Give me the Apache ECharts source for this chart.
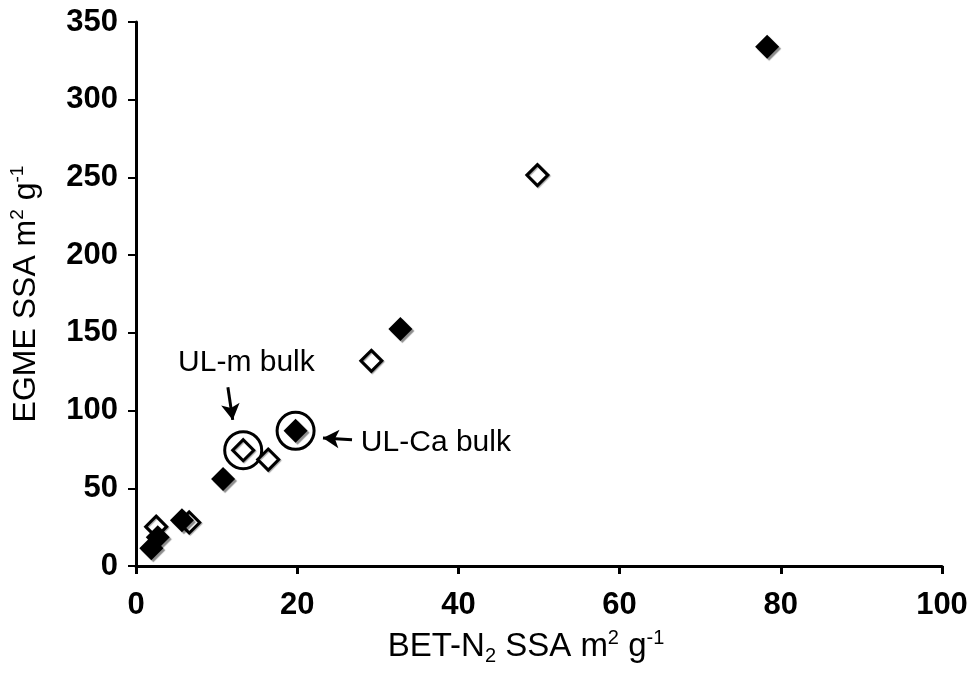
<!DOCTYPE html>
<html>
<head>
<meta charset="utf-8">
<script src="https://cdn.jsdelivr.net/npm/echarts@6/dist/echarts.min.js"></script>
<style>
  html, body { margin: 0; padding: 0; background: #fff; }
  #chart { width: 971px; height: 682px; }
</style>
</head>
<body>
<div id="chart"></div>
<script>
// BET-N2 SSA (x) vs EGME SSA (y), m2 g-1
var filledPts = [[78.3, 334], [32.8, 152.5], [19.8, 87], [10.8, 56], [5.7, 29.5], [2.7, 18.5], [1.9, 11.5]];
var openPts = [[49.8, 251.5], [29.2, 132], [13.3, 74.5], [16.4, 68.5], [6.6, 28], [2.5, 25.3]];
// circled samples
var circledPts = [[13.3, 74.5], [19.8, 87]];
// annotation labels
var noteText = ['UL-m bulk', 'UL-Ca bulk'];
var notePos = [[13.7, 131], [27.9, 79]];
// annotation arrows [[x1, y1], [x2, y2]]
var arrows = [[[11.4, 115], [12.0, 94]], [[26.8, 81.2], [23.2, 82.4]]];

var xTicks = [0, 20, 40, 60, 80, 100];
var yTicks = [0, 50, 100, 150, 200, 250, 300, 350];

var labelFont = 'Liberation Sans, Arial, sans-serif';

var option = {
    backgroundColor: '#fff',
    animation: false,
    grid: { left: 136, right: 29, top: 22, bottom: 116 },
    xAxis: {
        type: 'value',
        min: xTicks[0],
        max: xTicks[xTicks.length - 1],
        interval: 20,
        name: 'BET-N{sub|2} SSA m{sup|2} g{sup|-1}',
        nameLocation: 'middle',
        nameGap: 62,
        nameTextStyle: {
            color: '#000', fontSize: 33, fontFamily: labelFont, lineHeight: 38, padding: [0, 26, 0, 0],
            rich: {
                sub: { fontSize: 20, fontFamily: labelFont, color: '#000', verticalAlign: 'bottom', lineHeight: 38 },
                sup: { fontSize: 20, fontFamily: labelFont, color: '#000', verticalAlign: 'top', lineHeight: 38 }
            }
        },
        axisLine: { lineStyle: { color: '#000', width: 3 } },
        axisTick: { show: true, inside: false, length: 8, lineStyle: { color: '#000', width: 3 } },
        axisLabel: { color: '#000', fontSize: 31, fontWeight: 'bold', fontFamily: labelFont, margin: 24 },
        splitLine: { show: false }
    },
    yAxis: {
        type: 'value',
        min: yTicks[0],
        max: yTicks[yTicks.length - 1],
        interval: 50,
        name: 'EGME SSA m{sup|2} g{sup|-1}',
        nameLocation: 'middle',
        nameGap: 92,
        nameTextStyle: {
            color: '#000', fontSize: 32, fontFamily: labelFont, lineHeight: 36,
            rich: {
                sup: { fontSize: 19, fontFamily: labelFont, color: '#000', verticalAlign: 'top', lineHeight: 36 }
            }
        },
        axisLine: { show: true, lineStyle: { color: '#000', width: 3 } },
        axisTick: { show: true, inside: false, length: 8, lineStyle: { color: '#000', width: 2 } },
        axisLabel: { color: '#000', fontSize: 31, fontWeight: 'bold', fontFamily: labelFont, margin: 18 },
        splitLine: { show: false }
    },
    series: [
        {
            name: 'circled',
            type: 'scatter',
            symbol: 'circle',
            symbolSize: 37,
            z: 1,
            itemStyle: { opacity: 1, color: 'rgba(255,255,255,0)', borderColor: '#000', borderWidth: 3 },
            data: circledPts
        },
        {
            name: 'open',
            type: 'scatter',
            symbol: 'diamond',
            symbolSize: [21, 21],
            z: 3,
            itemStyle: { opacity: 1, color: '#fff', borderColor: '#000', borderWidth: 3, shadowColor: 'rgba(0,0,0,0.35)', shadowOffsetX: 1, shadowOffsetY: 1, shadowBlur: 1 },
            data: openPts
        },
        {
            name: 'filled',
            type: 'scatter',
            symbol: 'diamond',
            symbolSize: [24, 24],
            z: 4,
            itemStyle: { opacity: 1, color: '#000', shadowColor: 'rgba(0,0,0,0.45)', shadowOffsetX: 2, shadowOffsetY: 2, shadowBlur: 1 },
            data: filledPts
        },
        {
            name: 'notes',
            type: 'scatter',
            symbolSize: 1,
            itemStyle: { opacity: 1, color: 'rgba(0,0,0,0)' },
            z: 5,
            silent: true,
            label: {
                show: true,
                formatter: '{b}',
                color: '#000',
                fontSize: 30,
                fontFamily: labelFont,
                fontWeight: 500
            },
            data: [
                { name: noteText[0], value: notePos[0], label: { position: 'inside', align: 'center' } },
                { name: noteText[1], value: notePos[1], label: { position: 'inside', align: 'left' } }
            ],
            markLine: {
                silent: true,
                symbol: ['none', 'arrow'],
                symbolSize: [14, 16],
                label: { show: false },
                lineStyle: { color: '#000', width: 3, type: 'solid', opacity: 1 },
                data: arrows.map(function (a) {
                    return [{ coord: a[0] }, { coord: a[1] }];
                })
            }
        }
    ]
};

var chart = echarts.init(document.getElementById('chart'));
chart.setOption(option);
</script>
</body>
</html>
